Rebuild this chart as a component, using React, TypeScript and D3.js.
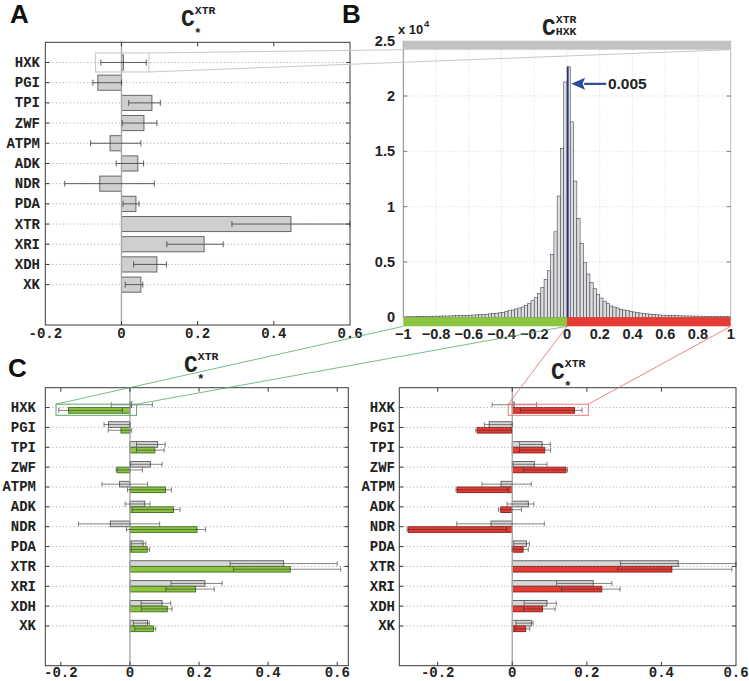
import React from "react";
import * as d3 from "d3";

// ---------- data ----------
const enzymes = ["HXK", "PGI", "TPI", "ZWF", "ATPM", "ADK", "NDR", "PDA", "XTR", "XRI", "XDH", "XK"];

// all samples (grey)
const ccAll = [0.005, -0.062, 0.080, 0.059, -0.030, 0.043, -0.057, 0.038, 0.445, 0.217, 0.093, 0.051];
const ccAllLo = [-0.054, -0.075, 0.019, 0.002, -0.081, -0.014, -0.149, 0.004, 0.290, 0.119, 0.032, 0.010];
const ccAllHi = [0.065, 0.0, 0.102, 0.093, 0.051, 0.058, 0.086, 0.046, 0.600, 0.267, 0.118, 0.056];

// samples with negative C_HXK (green)
const ccNeg = [-0.178, -0.026, 0.072, -0.037, 0.103, 0.126, 0.194, 0.050, 0.464, 0.190, 0.108, 0.068];
const ccNegLo = [-0.206, -0.063, 0.019, -0.040, -0.007, 0.007, -0.010, 0.003, 0.300, 0.104, 0.033, 0.014];
const ccNegHi = [-0.022, 0.005, 0.099, 0.036, 0.120, 0.145, 0.219, 0.057, 0.610, 0.244, 0.122, 0.075];

// samples with positive C_HXK (red)
const ccPos = [0.167, -0.094, 0.087, 0.144, -0.148, -0.031, -0.279, 0.029, 0.428, 0.240, 0.081, 0.036];
const ccPosLo = [0.022, -0.098, 0.019, 0.030, -0.151, -0.037, -0.282, 0.000, 0.282, 0.132, 0.030, 0.007];
const ccPosHi = [0.187, -0.002, 0.103, 0.148, -0.011, 0.025, -0.015, 0.043, 0.589, 0.289, 0.115, 0.047];

const barTicks = [-0.2, 0, 0.2, 0.4, 0.6];
const barTickLabels = ["-0.2", "0", "0.2", "0.4", "0.6"];

// histogram of C_HXK^XTR, bins of width 0.02 from -1 to 1
const histStart = -1;
const histStep = 0.02;
const histCounts = [
  40, 50, 50, 60, 60, 70, 70, 80, 90, 100, 100, 110, 120, 120, 130, 140,
  150, 160, 170, 180, 190, 210, 220, 240, 260, 280, 310, 340, 370, 410, 450, 520,
  600, 660, 750, 840, 930, 1080, 1230, 1500, 1770, 2170, 2710, 3430, 4210, 5690, 7730, 10960, 15270, 21280,
  22640, 17670, 12310, 8940, 6680, 4970, 3910, 3130, 2580, 2080, 1740, 1450, 1230, 1020, 930, 840, 720, 660,
  600, 540, 480, 430, 380, 340, 310, 280, 250, 230, 210, 190, 180, 170, 160, 150,
  140, 130, 120, 120, 110, 110, 100, 100, 90, 90, 80, 80, 70, 70, 60, 60,
];
const histXTicks = [-1, -0.8, -0.6, -0.4, -0.2, 0, 0.2, 0.4, 0.6, 0.8, 1];
const histXTickLabels = ["\u22121", "\u22120.8", "\u22120.6", "\u22120.4", "\u22120.2", "0", "0.2", "0.4", "0.6", "0.8", "1"];
const histYTicks = [0, 5000, 10000, 15000, 20000, 25000];
const histYTickLabels = ["0", "0.5", "1", "1.5", "2", "2.5"];
const medianHXK = 0.005;
const medianLabel = "0.005";
const arrowLevel = 21100;
const peakCount = 22640;

// ---------- style ----------
const W = 749, H = 681;
const MONO = "'Liberation Mono', 'DejaVu Sans Mono', 'Courier New', monospace";
const SANS = "'Liberation Sans', Arial, Helvetica, sans-serif";
const GREY_FILL = "#cfcfcf";
const GREY_STROKE = "#5a5a5a";
const GREEN_FILL = "#8cc540";
const GREEN_STROKE = "#3d6b1c";
const RED_FILL = "#e53b32";
const RED_STROKE = "#8e1a16";

type Series = { v: number[]; lo: number[]; hi: number[]; fill: string; stroke: string; band: [number, number]; err: string; errOp: number };

function makeBarScales(left: number, right: number, top: number, bottom: number, domain: [number, number]) {
  const x = d3.scaleLinear().domain(domain).range([left, right]);
  const y = d3.scaleLinear().domain([0, 14]).range([top, bottom]);
  return { x, y };
}

function Title({ x, y, sup, sub, size }: { x: number; y: number; sup: string; sub: string; size: number }) {
  const star = sub === "*";
  return (
    <g fontFamily={MONO} fontWeight="bold" fill="#222">
      <text x={x} y={y} fontSize={size}>C</text>
      <text x={x + size * 0.6} y={y - size * 0.52} fontSize={size * 0.5}>{sup}</text>
      <text x={x + size * (star ? 0.56 : 0.6)} y={y + (star ? size * 0.46 : 0)} fontSize={size * (star ? 0.55 : 0.5)}>{sub}</text>
    </g>
  );
}

function BarPanel({ sc, left, right, top, bottom, series, labelX, capH, gridOnTop, tickY }: any) {
  const { x, y } = sc;
  const rows = enzymes.map((_, i) => i + 1);
  const grid = (
    <g>
      {rows.map((r) => (
        <line key={r} x1={left} x2={right} y1={y(r)} y2={y(r)} stroke="#8a8a8a" strokeWidth={0.8} strokeDasharray="1,2.5" />
      ))}
    </g>
  );
  return (
    <g>
      {!gridOnTop && grid}
      {series.map((s: Series, si: number) => (
        <g key={si}>
          {s.v.map((val, i) => {
            const r = i + 1;
            const y0 = y(r + s.band[0]);
            const y1 = y(r + s.band[1]);
            const xa = x(Math.min(0, val));
            const xb = x(Math.max(0, val));
            return <rect key={i} x={xa} y={y0} width={xb - xa} height={y1 - y0} fill={s.fill} stroke={s.stroke} strokeWidth={0.9} />;
          })}
        </g>
      ))}
      <line x1={x(0)} x2={x(0)} y1={top} y2={bottom} stroke="#a8a8a8" strokeWidth={1.4} />
      {gridOnTop && grid}
      {series.map((s: Series, si: number) => (
        <g key={"e" + si} stroke={s.err} strokeOpacity={s.errOp} strokeWidth={1}>
          {s.v.map((_, i) => {
            const r = i + 1;
            const yc = y(r + (s.band[0] + s.band[1]) / 2);
            const xl = x(s.lo[i]);
            const xh = x(s.hi[i]);
            return (
              <g key={i}>
                <line x1={xl} x2={xh} y1={yc} y2={yc} />
                <line x1={xl} x2={xl} y1={yc - capH} y2={yc + capH} />
                <line x1={xh} x2={xh} y1={yc - capH} y2={yc + capH} />
              </g>
            );
          })}
        </g>
      ))}
      <rect x={left} y={top} width={right - left} height={bottom - top} fill="none" stroke="#3a3a3a" strokeWidth={1} />
      {barTicks.map((t) =>
        x(t) > left + 1 && x(t) < right - 1 ? (
          <g key={t} stroke="#3a3a3a" strokeWidth={1}>
            <line x1={x(t)} x2={x(t)} y1={top} y2={top + 4} />
            <line x1={x(t)} x2={x(t)} y1={bottom} y2={bottom - 4} />
          </g>
        ) : null
      )}
      {rows.map((r) => (
        <g key={"t" + r} stroke="#3a3a3a" strokeWidth={1}>
          <line x1={left} x2={left + 4} y1={y(r)} y2={y(r)} />
          <line x1={right} x2={right - 4} y1={y(r)} y2={y(r)} />
        </g>
      ))}
      <g fontFamily={MONO} fontWeight="bold" fontSize={14} fill="#222">
        {enzymes.map((e, i) => (
          <text key={e} x={labelX} y={y(i + 1) + 4.5} textAnchor="end">{e}</text>
        ))}
        {barTicks.map((t, i) => (
          <text key={t} x={x(t)} y={tickY} textAnchor="middle">{barTickLabels[i]}</text>
        ))}
      </g>
    </g>
  );
}

export default function App() {
  const A = { left: 45.3, right: 350, top: 42.3, bottom: 325 };
  const scA = makeBarScales(A.left, A.right, A.top, A.bottom, [-0.2, 0.6]);
  const CL = { left: 45.3, right: 348.3, top: 387.7, bottom: 665.7 };
  const scCL = makeBarScales(CL.left, CL.right, CL.top, CL.bottom, [-0.245, 0.632]);
  const CR = { left: 399.3, right: 736, top: 387.7, bottom: 665.7 };
  const scCR = makeBarScales(CR.left, CR.right, CR.top, CR.bottom, [-0.303, 0.6]);
  const B = { left: 403.3, right: 730.7, top: 40.7, bottom: 317.3 };
  const xB = d3.scaleLinear().domain([-1, 1]).range([B.left, B.right]);
  const yB = d3.scaleLinear().domain([0, 25000]).range([B.bottom, B.top]);
  const bandH = 9;

  const greySeriesA: Series = { v: ccAll, lo: ccAllLo, hi: ccAllHi, fill: GREY_FILL, stroke: GREY_STROKE, band: [-0.375, 0.375], err: "#444", errOp: 0.85 };
  const greySeriesC: Series = { ...greySeriesA, fill: "#d6d6d6", band: [-0.285, 0], err: "#333", errOp: 0.6 };
  const greenSeries: Series = { v: ccNeg, lo: ccNegLo, hi: ccNegHi, fill: GREEN_FILL, stroke: GREEN_STROKE, band: [0, 0.285], err: "#333", errOp: 0.6 };
  const redSeries: Series = { v: ccPos, lo: ccPosLo, hi: ccPosHi, fill: RED_FILL, stroke: RED_STROKE, band: [0, 0.285], err: "#333", errOp: 0.6 };

  const boxA = { x0: scA.x(-0.068), x1: scA.x(0.072), y0: scA.y(1 - 0.47), y1: scA.y(1 + 0.47) };
  const boxG = { x0: scCL.x(-0.214), x1: scCL.x(0.019), y0: scCL.y(1 - 0.17), y1: scCL.y(1 + 0.39) };
  const boxR = { x0: scCR.x(-0.011), x1: scCR.x(0.204), y0: scCR.y(1 - 0.17), y1: scCR.y(1 + 0.39) };

  const binW = xB(histStart + histStep) - xB(histStart);

  return (
    <div style={{ position: "absolute", left: 0, top: 0 }}>
      <svg width={W} height={H} style={{ display: "block", background: "#fff" }}>
        <rect width={W} height={H} fill="#fff" />

        {/* ----- Panel B ----- */}
        <g>
          {histXTicks.slice(1, -1).map((t) => (
            <line key={t} x1={xB(t)} x2={xB(t)} y1={B.top} y2={B.bottom} stroke="#c8c8c8" strokeWidth={0.7} strokeDasharray="1,2" />
          ))}
          {histYTicks.slice(1, -1).map((t) => (
            <line key={t} x1={B.left} x2={B.right} y1={yB(t)} y2={yB(t)} stroke="#c8c8c8" strokeWidth={0.7} strokeDasharray="1,2" />
          ))}
          {histCounts.map((c, i) => {
            const x0 = xB(histStart + i * histStep);
            return <rect key={i} x={x0} y={yB(c)} width={binW} height={yB(0) - yB(c)} fill="#dcdce3" stroke="#4a4a4a" strokeWidth={0.6} />;
          })}
          <line x1={xB(medianHXK)} x2={xB(medianHXK)} y1={yB(0)} y2={yB(peakCount)} stroke="#28307a" strokeWidth={1.6} />
          <line x1={B.left} x2={B.left} y1={B.top} y2={B.bottom} stroke="#8a8a8a" strokeWidth={1} />
          <line x1={B.right} x2={B.right} y1={B.top} y2={B.bottom} stroke="#bbbbbb" strokeWidth={1} />
          {histYTicks.slice(1, -1).map((t) => (
            <g key={"yt" + t} stroke="#777" strokeWidth={1}>
              <line x1={B.left} x2={B.left + 4} y1={yB(t)} y2={yB(t)} />
              <line x1={B.right} x2={B.right - 4} y1={yB(t)} y2={yB(t)} />
            </g>
          ))}
          <rect x={B.left} y={B.top} width={B.right - B.left} height={bandH} fill="#c2c2c2" />
          <rect x={xB(-1)} y={B.bottom} width={xB(0) - xB(-1)} height={bandH} fill={GREEN_FILL} />
          <rect x={xB(0)} y={B.bottom} width={xB(1) - xB(0)} height={bandH} fill={RED_FILL} />
          <line x1={xB(0.24)} x2={xB(0.105)} y1={yB(arrowLevel)} y2={yB(arrowLevel)} stroke="#2c4c9c" strokeWidth={2.2} />
          <path d={`M${xB(medianHXK) + 3.5},${yB(arrowLevel)} L${xB(0.11)},${yB(arrowLevel) - 6} L${xB(0.095)},${yB(arrowLevel)} L${xB(0.11)},${yB(arrowLevel) + 6} Z`} fill="#2c4c9c" />
          <text x={xB(0.25)} y={yB(arrowLevel) + 5.5} fontFamily={SANS} fontWeight="bold" fontSize={15.5} fill="#222">{medianLabel}</text>
          <g fontFamily={SANS} fontWeight="bold" fontSize={14.5} fill="#222">
            {histXTicks.map((t, i) => (
              <text key={t} x={xB(t)} y={338.5} textAnchor="middle">{histXTickLabels[i]}</text>
            ))}
            {histYTicks.map((t, i) => (
              <text key={t} x={395} y={yB(t) + 5} textAnchor="end">{histYTickLabels[i]}</text>
            ))}
          </g>
          <text x={398} y={34} fontFamily={SANS} fontWeight="bold" fontSize={13} fill="#222">x 10</text>
          <text x={424} y={27} fontFamily={SANS} fontWeight="bold" fontSize={9.5} fill="#222">4</text>
        </g>

        {/* ----- Panel A ----- */}
        <BarPanel sc={scA} {...A} series={[greySeriesA]} labelX={40} capH={3} gridOnTop={false} tickY={338} />
        <rect x={boxA.x0} y={boxA.y0} width={boxA.x1 - boxA.x0} height={boxA.y1 - boxA.y0} fill="none" stroke="#c4c4c4" strokeWidth={1} />

        {/* ----- Panel C ----- */}
        <BarPanel sc={scCL} {...CL} series={[greySeriesC, greenSeries]} labelX={36} capH={2.5} gridOnTop={true} tickY={677} />
        <rect x={boxG.x0} y={boxG.y0} width={boxG.x1 - boxG.x0} height={boxG.y1 - boxG.y0} fill="none" stroke="#5aa86a" strokeWidth={1} />
        <BarPanel sc={scCR} {...CR} series={[greySeriesC, redSeries]} labelX={395} capH={2.5} gridOnTop={true} tickY={677} />
        <rect x={boxR.x0} y={boxR.y0} width={boxR.x1 - boxR.x0} height={boxR.y1 - boxR.y0} fill="none" stroke="#e87a7a" strokeWidth={1} />

        {/* connecting lines */}
        <line x1={boxA.x1} y1={boxA.y0} x2={B.left} y2={B.top + bandH} stroke="#c8c8c8" strokeWidth={1} />
        <line x1={boxA.x1} y1={boxA.y1} x2={B.right} y2={B.top + bandH} stroke="#c8c8c8" strokeWidth={1} />
        <line x1={boxG.x0} y1={boxG.y0} x2={xB(-1)} y2={B.bottom + bandH} stroke="#5aa86a" strokeWidth={0.8} />
        <line x1={boxG.x1} y1={boxG.y0} x2={xB(0)} y2={B.bottom + bandH} stroke="#5aa86a" strokeWidth={0.8} />
        <line x1={boxR.x0} y1={boxR.y0} x2={xB(0)} y2={B.bottom + bandH} stroke="#e36a6a" strokeWidth={0.8} />
        <line x1={boxR.x1} y1={boxR.y0} x2={xB(1)} y2={B.bottom + bandH} stroke="#e36a6a" strokeWidth={0.8} />

        {/* titles */}
        <Title x={181} y={26} sup="XTR" sub="*" size={23} />
        <Title x={542} y={35} sup="XTR" sub="HXK" size={23} />
        <Title x={184} y={372} sup="XTR" sub="*" size={23} />
        <Title x={551} y={379} sup="XTR" sub="*" size={23} />

        {/* panel letters */}
        <g fontFamily={SANS} fontWeight="bold" fontSize={26} fill="#111">
          <text x={10} y={23}>A</text>
          <text x={342} y={23}>B</text>
          <text x={8} y={377}>C</text>
        </g>
      </svg>
    </div>
  );
}
